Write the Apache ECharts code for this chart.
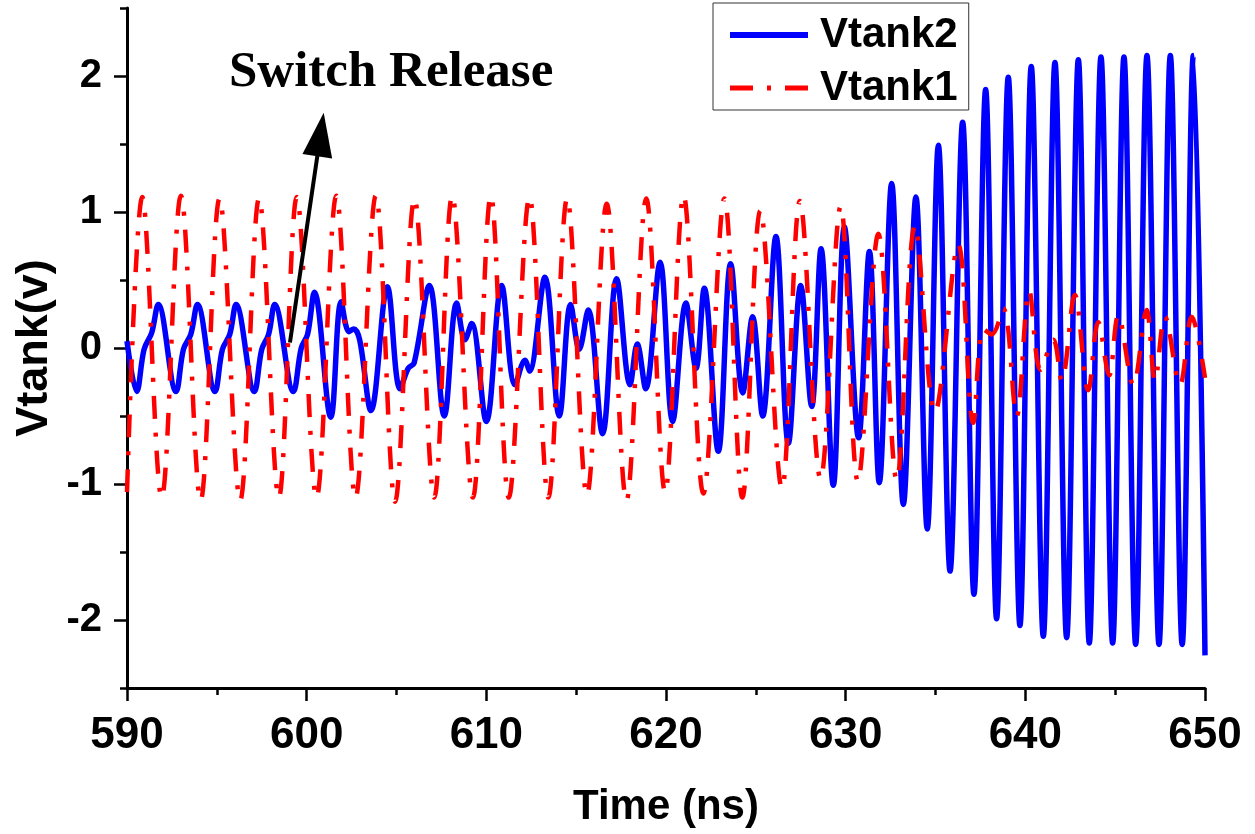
<!DOCTYPE html>
<html>
<head>
<meta charset="utf-8">
<title>Vtank</title>
<script src="https://cdn.jsdelivr.net/npm/echarts@6/dist/echarts.min.js"></script>
<style>
html, body { margin: 0; padding: 0; background: #fff; }
#main { width: 1255px; height: 834px; }
</style>
</head>
<body>
<div id="main"></div>
<script>
// Vtank2 (blue): peaks, troughs and knees. time in ns, volt in V
var vtank2Time = [590.00, 590.54, 590.95, 591.37, 591.74, 592.73, 593.14, 593.55, 593.92, 594.90,
  595.31, 595.72, 596.07, 597.09, 597.50, 597.88, 598.22, 599.26, 599.70, 600.05,
  600.43, 601.34, 601.92, 602.35, 602.62, 602.95, 603.58, 604.49, 605.20, 605.65,
  605.98, 606.83, 607.66, 608.35, 608.81, 609.18, 610.00, 610.85, 611.60, 612.15,
  612.40, 613.26, 614.06, 614.69, 615.17, 615.67, 616.47, 617.25, 618.00, 618.40,
  618.87, 619.67, 620.37, 621.11, 621.67, 622.13, 622.91, 623.60, 624.27, 624.82,
  625.38, 626.12, 626.81, 627.50, 628.11, 628.63, 629.31, 629.93, 630.72, 631.32,
  631.87, 632.56, 633.21, 633.91, 634.54, 635.16, 635.81, 636.51, 637.14, 637.79,
  638.40, 639.05, 639.70, 640.33, 641.00, 641.65, 642.30, 642.95, 643.56, 644.21,
  644.86, 645.49, 646.14, 646.77, 647.44, 648.07, 648.73, 649.35, 650.00];
var vtank2Volt = [0.05, -0.32, -0.01, 0.11, 0.32, -0.32, -0.01, 0.10, 0.32, -0.32,
  -0.01, 0.10, 0.32, -0.32, -0.01, 0.10, 0.32, -0.32, 0.00, 0.10,
  0.41, -0.51, 0.34, 0.12, 0.14, 0.06, -0.46, 0.45, -0.30, -0.15,
  -0.11, 0.46, -0.50, 0.33, 0.06, 0.18, -0.54, 0.46, -0.27, -0.09,
  -0.17, 0.52, -0.50, 0.32, -0.01, 0.28, -0.63, 0.51, -0.27, 0.03,
  -0.30, 0.63, -0.54, 0.33, -0.15, 0.44, -0.76, 0.62, -0.33, 0.23,
  -0.50, 0.82, -0.70, 0.46, -0.43, 0.73, -1.01, 0.89, -0.66, 0.71,
  -0.99, 1.21, -1.15, 1.11, -1.33, 1.49, -1.64, 1.66, -1.81, 1.90,
  -1.99, 1.99, -2.04, 2.07, -2.12, 2.10, -2.13, 2.12, -2.17, 2.14,
  -2.17, 2.14, -2.18, 2.15, -2.18, 2.15, -2.18, 2.15, -2.26];

// Vtank1 (red dash-dot)
var vtank1Time = [590.00, 590.85, 591.93, 593.00, 594.10, 595.15, 596.30, 597.35, 598.45, 599.45,
  600.55, 601.65, 602.72, 603.85, 604.92, 606.00, 607.10, 608.10, 609.25, 610.25,
  611.25, 612.40, 613.45, 614.50, 615.60, 616.70, 617.80, 618.90, 619.95, 620.98,
  622.08, 623.25, 624.25, 625.25, 626.45, 627.45, 628.60, 629.72, 630.68, 631.82,
  632.84, 633.86, 634.97, 636.27, 637.10, 637.66, 638.13, 638.77, 639.52, 640.22,
  640.85, 641.56, 642.02, 642.76, 643.50, 644.06, 644.67, 645.17, 646.01, 646.75,
  647.22, 647.77, 648.61, 649.26, 650.00];
var vtank1Volt = [-1.06, 1.11, -1.10, 1.12, -1.12, 1.10, -1.12, 1.10, -1.10, 1.11,
  -1.10, 1.12, -1.10, 1.12, -1.13, 1.10, -1.10, 1.12, -1.10, 1.12,
  -1.10, 1.11, -1.10, 1.10, -1.08, 1.06, -1.12, 1.10, -1.06, 1.12,
  -1.07, 1.10, -1.10, 1.01, -1.03, 1.08, -0.96, 1.04, -0.98, 0.84,
  -0.97, 0.90, -0.47, 0.76, -0.55, 0.14, 0.10, 0.29, -0.50, 0.42,
  -0.16, 0.06, -0.24, 0.39, -0.31, 0.19, -0.20, 0.24, -0.27, 0.28,
  -0.24, 0.23, -0.27, 0.23, -0.22];

// "Switch Release" arrow, from / to (ns, V)
var arrowFrom = [599.07, 0.04];
var arrowTo = [600.77, 1.57];

function toPairs(t, v) {
  return t.map(function (x, i) { return [x, v[i]]; });
}

var font = 'Liberation Sans, Arial, sans-serif';
var tickStyle = { color: '#000', width: 2.5 };

var chart = echarts.init(document.getElementById('main'));

var option = {
  animation: false,
  backgroundColor: '#fff',
  grid: [
    { left: 127, right: 50, top: 8, bottom: 146 },
    // second grid only carries the long ticks + labels at -2..2
    { left: 127, right: 50, top: 76, bottom: 214 }
  ],
  legend: {
    data: [
      { name: 'Vtank2', lineStyle: { width: 6 } },
      { name: 'Vtank1', lineStyle: { width: 5 } }
    ],
    orient: 'vertical',
    left: 713,
    top: 3,
    itemWidth: 78,
    itemHeight: 14,
    itemGap: 11,
    padding: [11, 11, 1, 14],
    borderColor: '#333',
    borderWidth: 1,
    itemStyle: { opacity: 0 },
    textStyle: { fontSize: 42, fontWeight: 'bold', fontFamily: font, color: '#000', padding: [0, 0, 0, 7] }
  },
  xAxis: [
    {
      gridIndex: 0, type: 'value', min: 590, max: 650, interval: 10,
      name: 'Time (ns)', nameLocation: 'middle', nameGap: 98,
      nameTextStyle: { fontSize: 42, fontWeight: 'bold', fontFamily: font, color: '#000' },
      axisLine: { show: true, onZero: false, lineStyle: { color: '#000', width: 3 } },
      axisTick: { show: true, length: 13, lineStyle: tickStyle },
      minorTick: { show: true, splitNumber: 2, length: 7, lineStyle: tickStyle },
      axisLabel: { margin: 26, fontSize: 44, fontWeight: 'bold', fontFamily: font, color: '#000' },
      splitLine: { show: false }
    },
    { gridIndex: 1, type: 'value', min: 590, max: 650, show: false }
  ],
  yAxis: [
    {
      gridIndex: 0, type: 'value', min: -2.5, max: 2.5, interval: 0.5,
      name: 'Vtank(v)', nameLocation: 'middle', nameGap: 70,
      nameTextStyle: { fontSize: 45, fontWeight: 'bold', fontFamily: font, color: '#000' },
      axisLine: { show: true, onZero: false, lineStyle: { color: '#000', width: 3 } },
      axisTick: { show: true, length: 7, lineStyle: tickStyle },
      axisLabel: { show: false },
      splitLine: { show: false }
    },
    {
      gridIndex: 1, type: 'value', min: -2, max: 2, interval: 1,
      axisLine: { show: false },
      axisTick: { show: true, length: 13, lineStyle: tickStyle },
      axisLabel: { margin: 25, fontSize: 40, fontWeight: 'bold', fontFamily: font, color: '#000' },
      splitLine: { show: false }
    }
  ],
  graphic: [
    {
      type: 'text', left: 229, top: 47,
      style: { text: 'Switch Release', font: 'bold 51px "Liberation Serif", "Times New Roman", serif', fill: '#000' }
    }
  ],
  series: [
    {
      name: 'Vtank2', type: 'line', xAxisIndex: 0, yAxisIndex: 0,
      data: toPairs(vtank2Time, vtank2Volt),
      smooth: 0.36, symbol: 'none',
      lineStyle: { color: '#0000ff', width: 5.5 },
      itemStyle: { color: '#0000ff' }
    },
    {
      name: 'Vtank1', type: 'line', xAxisIndex: 0, yAxisIndex: 0,
      data: toPairs(vtank1Time, vtank1Volt),
      smooth: 0.36, symbol: 'none',
      lineStyle: { color: '#ff0000', width: 4.5, type: [23, 14, 4, 14] },
      itemStyle: { color: '#ff0000' },
      markLine: {
        silent: true, z: 10, animation: false,
        symbol: ['none', 'triangle'],
        label: { show: false },
        lineStyle: { color: '#000', width: 4, type: 'solid' },
        data: [[
          { coord: arrowFrom, symbol: 'none' },
          { coord: arrowTo, symbol: 'triangle', symbolSize: [30, 44] }
        ]]
      }
    }
  ]
};

chart.setOption(option);
</script>
</body>
</html>
